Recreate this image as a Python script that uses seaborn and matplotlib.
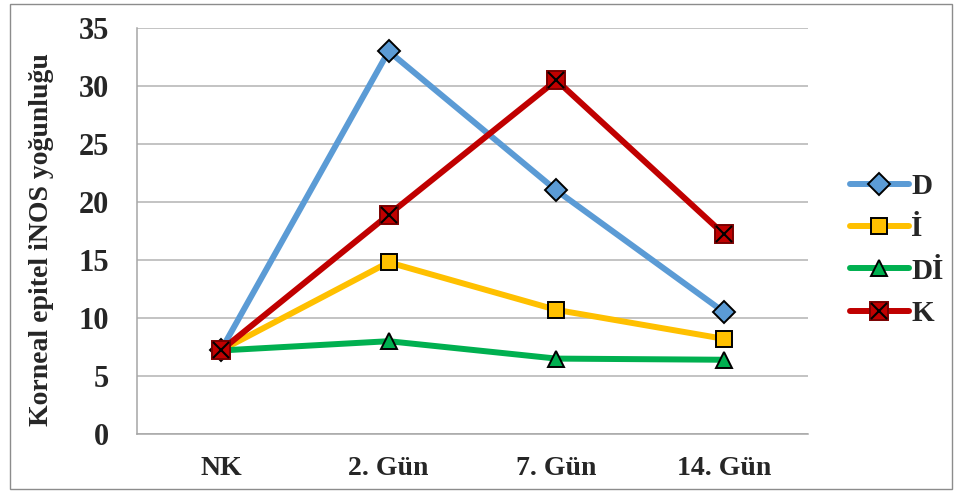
import matplotlib
matplotlib.use("Agg")
import matplotlib.pyplot as plt
import seaborn as sns
import pandas as pd
from matplotlib.patches import Rectangle
from matplotlib.legend_handler import HandlerTuple
from matplotlib.ticker import FixedLocator

categories = ["NK", "2. Gün", "7. Gün", "14. Gün"]
d_vals = [7.2, 33.0, 21.0, 10.5]
i_vals = [7.2, 14.8, 10.7, 8.2]
di_vals = [7.2, 8.0, 6.5, 6.4]
k_vals = [7.2, 18.9, 30.5, 17.2]
y_ticks = [0, 5, 10, 15, 20, 25, 30, 35]

series = [
    ("D", d_vals, "#5B9BD5", "D", 11),
    ("İ", i_vals, "#FFC000", "s", 12),
    ("Dİ", di_vals, "#00B050", "^", 12),
    ("K", k_vals, "#C00000", "s", 13),
]

sns.set_theme(style="white")
plt.rcParams["font.family"] = ["Liberation Serif", "DejaVu Serif"]
plt.rcParams["font.weight"] = "bold"

fig = plt.figure(figsize=(9.6, 4.92), dpi=100)
ax = fig.add_axes([137 / 960, 1 - 434 / 492, (808 - 137) / 960, (434 - 28) / 492])

handles = []
for name, vals, color, marker, ms in series:
    df = pd.DataFrame({"gun": categories, "deger": vals})
    sns.lineplot(data=df, x="gun", y="deger", ax=ax, color=color, linewidth=4.3,
                 marker=marker, markersize=ms, markerfacecolor=color,
                 markeredgecolor="#7A0000" if name == "K" else "black",
                 markeredgewidth=1.4, sort=False)
    line = ax.lines[-1]
    if name == "K":
        sns.lineplot(data=df, x="gun", y="deger", ax=ax, color="black", linewidth=0,
                     marker="x", markersize=12, markeredgecolor="black",
                     markeredgewidth=1.5, sort=False)
        handles.append((line, ax.lines[-1]))
    else:
        handles.append(line)

ax.set_xlim(-0.5, 3.5)
ax.set_ylim(0, 35)
ax.set_yticks(y_ticks)
ax.set_xticks(range(len(categories)))
ax.set_xticklabels(categories)
ax.xaxis.set_minor_locator(FixedLocator([0.5, 1.5, 2.5, 3.5]))
ax.tick_params(axis="x", which="major", length=0, pad=16, labelsize=20)
ax.tick_params(axis="x", which="minor", length=8, width=1, color="#A6A6A6", direction="out")
ax.tick_params(axis="y", length=5, width=1, color="#A6A6A6", direction="out", pad=15, labelsize=22)
for lbl in ax.get_xticklabels() + ax.get_yticklabels():
    lbl.set_fontweight("bold")

ax.yaxis.grid(True, color="#B3B3B3", linewidth=1.1)
ax.set_axisbelow(True)
for side in ["top", "right"]:
    ax.spines[side].set_visible(False)
for side in ["left", "bottom"]:
    ax.spines[side].set_color("#A6A6A6")
    ax.spines[side].set_linewidth(1.1)

ax.set_xlabel("")
ax.set_ylabel("Korneal epitel iNOS yoğunluğu", fontsize=20, fontweight="bold")
ax.yaxis.set_label_coords(-0.123, 0.478)

if ax.get_legend() is not None:
    ax.get_legend().remove()
fig.legend(handles, [s[0] for s in series], loc="center left",
           bbox_to_anchor=(824 / 960, 1 - 250 / 492), frameon=False,
           prop={"size": 21, "weight": "bold"}, handlelength=2.0,
           labelspacing=0.52, handletextpad=0.1,
           handler_map={tuple: HandlerTuple(ndivide=1, pad=0)})

fig.patches.append(Rectangle((10 / 960, 3 / 492), 942 / 960, 485 / 492,
                             transform=fig.transFigure, fill=False,
                             edgecolor="#8C8C8C", linewidth=1.0))

fig.savefig("out.png", dpi=100, facecolor="white")
